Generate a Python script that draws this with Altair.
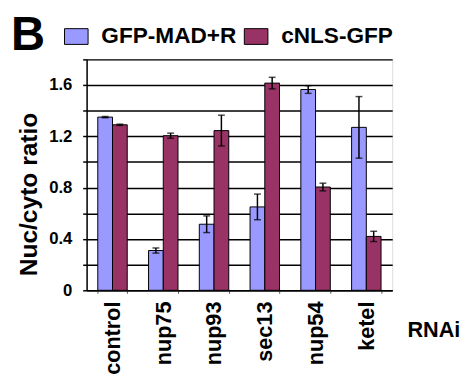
import altair as alt
import pandas as pd

categories = ["control", "nup75", "nup93", "sec13", "nup54", "ketel"]
series = ["GFP-MAD+R", "cNLS-GFP"]
mad_values = [1.35, 0.31, 0.515, 0.65, 1.565, 1.27]
mad_errors = [0.005, 0.02, 0.065, 0.10, 0.03, 0.24]
nls_values = [1.29, 1.205, 1.245, 1.615, 0.805, 0.42]
nls_errors = [0.005, 0.02, 0.12, 0.045, 0.03, 0.04]
y_ticks = [0, 0.2, 0.4, 0.6, 0.8, 1.0, 1.2, 1.4, 1.6, 1.8]
colors = ["#9999FF", "#993366"]

rows = []
for s, vals, errs in [(series[0], mad_values, mad_errors), (series[1], nls_values, nls_errors)]:
    for c, v, e in zip(categories, vals, errs):
        rows.append({"RNAi": c, "series": s, "value": v, "lo": v - e, "hi": v + e})
df = pd.DataFrame(rows)

FONT = "Liberation Sans"

x_enc = alt.X(
    "RNAi:N",
    sort=categories,
    scale=alt.Scale(paddingInner=0.42, paddingOuter=0.22),
    axis=alt.Axis(
        title="RNAi",
        titleAngle=0,
        titleX=326,
        titleY=47,
        titleAlign="left",
        titleBaseline="alphabetic",
        titleFontSize=22,
        titleFont=FONT,
        titleFontWeight="bold",
        titleColor="black",
        labelAngle=-90,
        labelFontSize=22,
        labelFont=FONT,
        labelFontWeight="bold",
        labelColor="black",
        labelPadding=8,
        tickBand="extent",
        tickSize=3,
        tickColor="#555555",
        domainColor="black",
        domainWidth=1.5,
    ),
)
xo_enc = alt.XOffset("series:N", sort=series, scale=alt.Scale(paddingInner=0, paddingOuter=0))

y_scale = alt.Scale(domain=[0, 1.8], nice=False)
y_axis = alt.Axis(
    title="Nuc/cyto ratio",
    titleX=-59,
    titleY=137,
    titleAlign="center",
    titleBaseline="middle",
    titleFontSize=25,
    titleFont=FONT,
    titleFontWeight="bold",
    titleColor="black",
    values=y_ticks,
    labelExpr="abs(round(datum.value*10) % 4) == 0 ? (datum.value == 0 ? '0' : format(datum.value, '.1f')) : ''",
    labelFontSize=17,
    labelFont=FONT,
    labelFontWeight="bold",
    labelColor="black",
    labelPadding=11,
    labelOverlap=False,
    tickSize=4,
    tickColor="black",
    tickWidth=1.5,
    grid=True,
    gridColor="black",
    gridWidth=1.5,
    domainColor="black",
    domainWidth=1.5,
)

bars = alt.Chart(df).mark_bar(stroke="black", strokeWidth=1).encode(
    x=x_enc,
    xOffset=xo_enc,
    y=alt.Y("value:Q", scale=y_scale, axis=y_axis),
    color=alt.Color(
        "series:N",
        sort=series,
        scale=alt.Scale(domain=series, range=colors),
        legend=alt.Legend(
            title=None,
            orient="none",
            legendX=-23,
            legendY=-36,
            direction="horizontal",
            symbolType="M-1,-0.667H1V0.667H-1Z",
            symbolSize=576,
            symbolStrokeColor="black",
            symbolStrokeWidth=1,
            symbolOpacity=1,
            labelFontSize=23,
            labelFont=FONT,
            labelFontWeight="bold",
            labelColor="black",
            labelOffset=13,
            columnPadding=5,
            padding=0,
        ),
    ),
)

err_rule = alt.Chart(df).mark_rule(color="black", strokeWidth=1.5).encode(
    x=x_enc, xOffset=xo_enc, y=alt.Y("lo:Q", scale=y_scale, axis=y_axis), y2="hi:Q"
)
cap_lo = alt.Chart(df).mark_tick(color="black", size=7, thickness=1.5).encode(
    x=x_enc, xOffset=xo_enc, y=alt.Y("lo:Q", scale=y_scale, axis=y_axis)
)
cap_hi = alt.Chart(df).mark_tick(color="black", size=7, thickness=1.5).encode(
    x=x_enc, xOffset=xo_enc, y=alt.Y("hi:Q", scale=y_scale, axis=y_axis)
)

label_b = alt.Chart(pd.DataFrame({"t": ["B"]})).mark_text(
    font=FONT, fontWeight="bold", fontSize=48, align="left", baseline="alphabetic", color="black"
).encode(text="t:N", x=alt.value(-77), y=alt.value(-10))

chart = alt.layer(bars, err_rule, cap_lo, cap_hi, label_b).properties(
    width=311,
    height=235,
    autosize=alt.AutoSizeParams(type="none"),
    padding={"left": 80, "top": 49, "right": 70, "bottom": 88},
).configure_view(stroke="black", strokeWidth=1.5).configure(background="white")

chart.save("out.html", embed_options={"renderer": "svg", "actions": False})
